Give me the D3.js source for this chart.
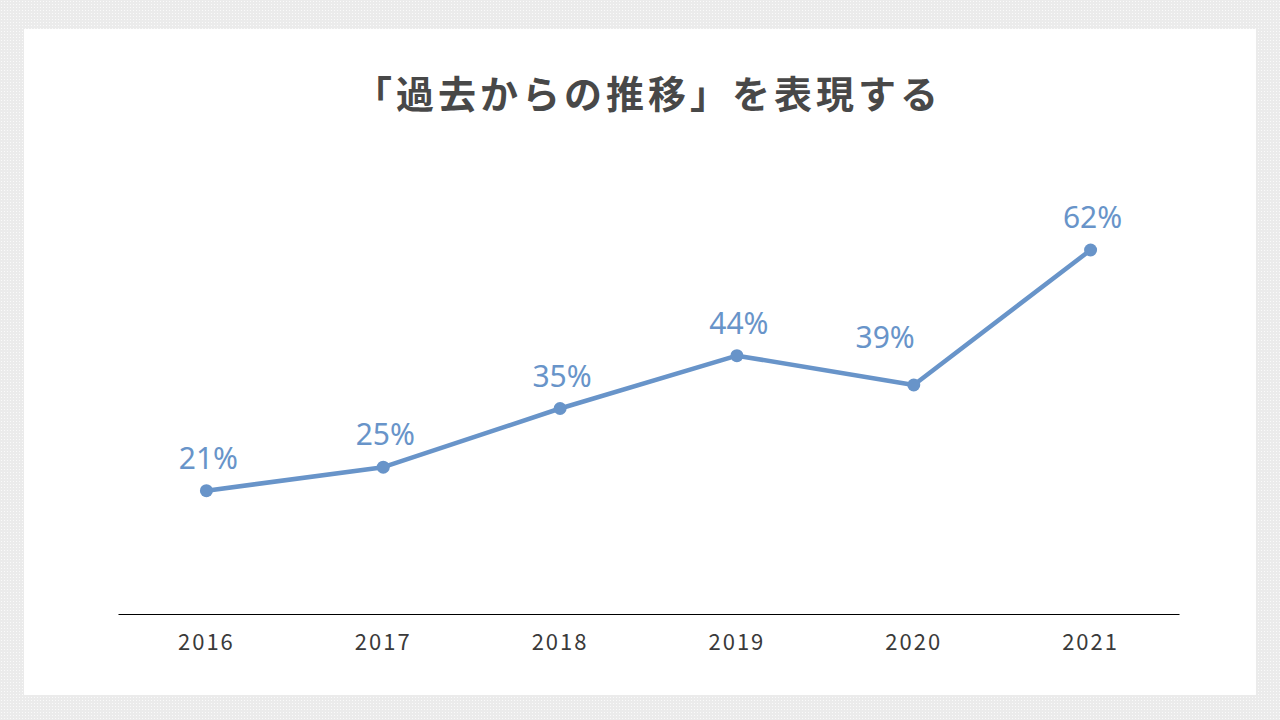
<!DOCTYPE html>
<html>
<head>
<meta charset="utf-8">
<script src="https://cdn.jsdelivr.net/npm/d3@7"></script>
<style>
  body { margin: 0; }
  .tick text { font-family: "Noto Sans CJK JP", "Noto Sans", sans-serif; }
</style>
</head>
<body>
<div id="chart"></div>
<script>
// chart data
const years = ["2016", "2017", "2018", "2019", "2020", "2021"];
const rates = [21, 25, 35, 44, 39, 62];
const title = "「過去からの推移」を表現する";

// Env params
const width = 1280;
const height = 720;
const card = {x: 24, y: 29, w: 1232, h: 666};
const plot = {left: 118, right: 1179, top: 203, bottom: 614};
const blue = "#6894c9";

var svg = d3.select("#chart").append("svg")
  .attr("width", width)
  .attr("height", height);

// dotted grey background
var pat = svg.append("defs").append("pattern")
  .attr("id", "dots")
  .attr("width", 3)
  .attr("height", 3)
  .attr("patternUnits", "userSpaceOnUse");
pat.append("rect").attr("width", 3).attr("height", 3).attr("fill", "#ebebeb");
pat.append("rect").attr("x", 1).attr("y", 1).attr("width", 1).attr("height", 1).attr("fill", "#fafafa");

svg.append("rect")
  .attr("width", width)
  .attr("height", height)
  .attr("fill", "url(#dots)");

// white card
svg.append("rect")
  .attr("x", card.x)
  .attr("y", card.y)
  .attr("width", card.w)
  .attr("height", card.h)
  .attr("fill", "#ffffff");

// title
svg.append("text")
  .attr("x", 648)
  .attr("y", 108)
  .attr("text-anchor", "middle")
  .attr("font-family", "'Noto Sans CJK JP', sans-serif")
  .attr("font-weight", "bold")
  .attr("font-size", 38)
  .attr("letter-spacing", 4)
  .attr("fill", "#484848")
  .text(title);

// scales
var x = d3.scaleBand()
  .domain(years)
  .range([plot.left, plot.right]);

var y = d3.scaleLinear()
  .domain([0, 70])
  .range([plot.bottom, plot.top]);

var cx = d => x(d) + x.bandwidth() / 2;

// x axis
var xAxis = svg.append("g")
  .attr("transform", `translate(0, ${plot.bottom})`)
  .call(d3.axisBottom(x).tickSize(0).tickPadding(20));

xAxis.select(".domain")
  .attr("stroke", "#000")
  .attr("stroke-width", 1.2);

xAxis.selectAll(".tick text")
  .attr("font-size", 22)
  .attr("letter-spacing", 2)
  .attr("fill", "#3a3a3a");

// line
var pts = years.map((yr, i) => ({year: yr, value: rates[i], i: i}));

var line = d3.line()
  .x(d => cx(d.year))
  .y(d => y(d.value));

svg.append("path")
  .datum(pts)
  .attr("d", line)
  .attr("fill", "none")
  .attr("stroke", blue)
  .attr("stroke-width", 4.5)
  .attr("stroke-linejoin", "round");

svg.selectAll(".dot")
  .data(pts)
  .enter().append("circle")
  .attr("class", "dot")
  .attr("cx", d => cx(d.year))
  .attr("cy", d => y(d.value))
  .attr("r", 6.5)
  .attr("fill", blue);

// value labels, a dip gets its label pushed to the left
function isDip(d) {
  var prev = rates[d.i - 1], next = rates[d.i + 1];
  return prev !== undefined && next !== undefined && d.value < prev && d.value < next;
}

svg.selectAll(".label")
  .data(pts)
  .enter().append("text")
  .attr("class", "label")
  .attr("x", d => isDip(d) ? cx(d.year) + 1 : cx(d.year) + 2)
  .attr("y", d => isDip(d) ? y(d.value) - 37 : y(d.value) - 22)
  .attr("text-anchor", d => isDip(d) ? "end" : "middle")
  .attr("font-family", "'Noto Sans', sans-serif")
  .attr("font-size", 30)
  .attr("fill", blue)
  .text(d => d.value + "%");
</script>
</body>
</html>
